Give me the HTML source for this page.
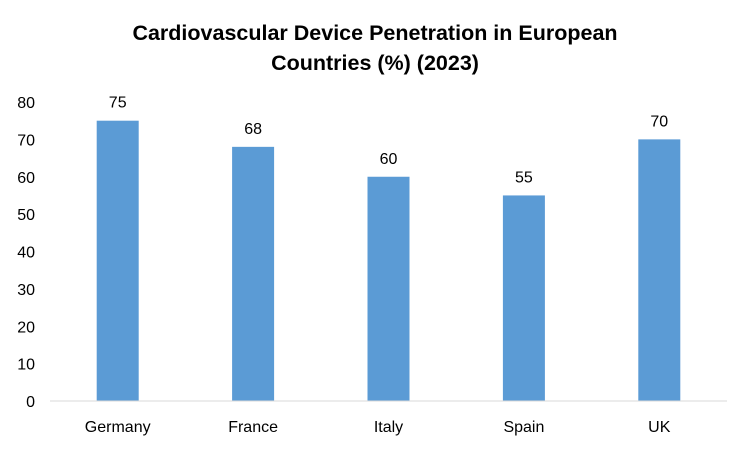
<!DOCTYPE html>
<html><head><meta charset="utf-8">
<style>
html,body{margin:0;padding:0;background:#fff;}
svg{display:block;font-family:"Liberation Sans",sans-serif;}
</style></head>
<body>
<svg id="chart" width="750" height="450" viewBox="0 0 750 450">
<rect x="0" y="0" width="750" height="450" fill="#fff"/>
<text x="375" y="40" text-anchor="middle" font-size="21.5" font-weight="bold" fill="#000">Cardiovascular Device Penetration in European</text>
<text x="375" y="70" text-anchor="middle" font-size="21.5" font-weight="bold" fill="#000">Countries (%) (2023)</text>
<g id="yaxis"></g>
<g id="bars"></g>
<line x1="50" y1="401" x2="727" y2="401" stroke="#d9d9d9" stroke-width="1"/>
<g id="xaxis"></g>
</svg>
<script>
const categories = ["Germany","France","Italy","Spain","UK"];
const values = [75,68,60,55,70];
const yTicks = [0,10,20,30,40,50,60,70,80];
const NS = "http://www.w3.org/2000/svg";
const plotLeft = 50, plotRight = 727, y0 = 401, y80 = 102;
function yScale(v){ return y0 - (v/80)*(y0-y80); }
const band = (plotRight-plotLeft)/categories.length;
function xCenter(i){ return plotLeft + band*(i+0.5); }
const barW = 42;
const yaxis = document.getElementById('yaxis');
yTicks.forEach(t=>{
  const tx = document.createElementNS(NS,'text');
  
  
  tx.setAttribute('x',35); tx.setAttribute('y',yScale(t)+6);
  tx.setAttribute('text-anchor','end'); tx.setAttribute('font-size','16'); tx.setAttribute('fill','#000');
  tx.textContent = t; yaxis.appendChild(tx);
});
const bars = document.getElementById('bars');
const xaxis = document.getElementById('xaxis');
categories.forEach((c,i)=>{
  const r = document.createElementNS(NS,'rect');
  
  
  r.setAttribute('x',xCenter(i)-barW/2); r.setAttribute('y',yScale(values[i]));
  r.setAttribute('width',barW); r.setAttribute('height',y0-yScale(values[i]));
  r.setAttribute('fill','#5b9bd5'); bars.appendChild(r);
  const lb = document.createElementNS(NS,'text');
  
  
  lb.setAttribute('x',xCenter(i)); lb.setAttribute('y',yScale(values[i])-13);
  lb.setAttribute('text-anchor','middle'); lb.setAttribute('font-size','16'); lb.setAttribute('fill','#000');
  lb.textContent = values[i]; bars.appendChild(lb);
  const cl = document.createElementNS(NS,'text');
  
  
  cl.setAttribute('x',xCenter(i)); cl.setAttribute('y',432);
  cl.setAttribute('text-anchor','middle'); cl.setAttribute('font-size','16'); cl.setAttribute('fill','#000');
  cl.textContent = c; xaxis.appendChild(cl);
});
</script>
</body></html>
